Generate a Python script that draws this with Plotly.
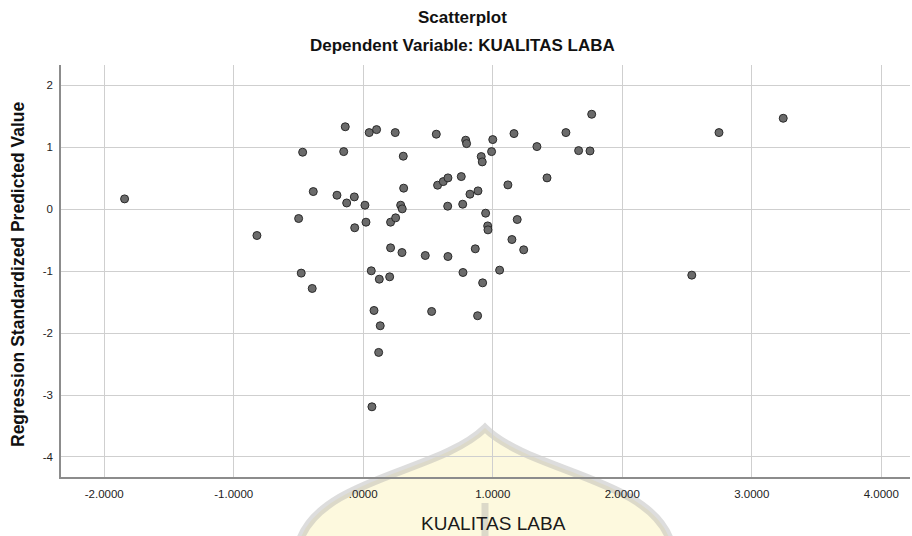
import plotly.graph_objects as go

# ---- data ----
kualitas_laba = [
    -1.843, -0.821, -0.499, -0.479, -0.468, -0.394, -0.386, -0.203, -0.151, -0.139,
    -0.128, -0.069, -0.066, 0.013, 0.021, 0.046, 0.062, 0.067, 0.083, 0.103,
    0.119, 0.124, 0.131, 0.204, 0.211, 0.211, 0.247, 0.250, 0.289, 0.299,
    0.301, 0.309, 0.312, 0.479, 0.528, 0.564, 0.574, 0.618, 0.652, 0.654,
    0.654, 0.757, 0.768, 0.770, 0.791, 0.798, 0.824, 0.865, 0.883, 0.886,
    0.911, 0.919, 0.922, 0.945, 0.961, 0.963, 0.991, 1.000, 1.053, 1.117,
    1.148, 1.164, 1.189, 1.239, 1.341, 1.419, 1.565, 1.663, 1.751, 1.764,
    2.537, 2.747, 3.243,
]
predicted_value = [
    0.166, -0.425, -0.151, -1.032, 0.919, -1.280, 0.284, 0.225, 0.929, 1.330,
    0.100, 0.198, -0.300, 0.064, -0.210, 1.236, -0.995, -3.190, -1.635, 1.284,
    -2.312, -1.130, -1.882, -1.092, -0.210, -0.624, 1.236, -0.140, 0.064, -0.700,
    0.005, 0.855, 0.339, -0.748, -1.651, 1.210, 0.387, 0.445, 0.048, 0.505,
    -0.764, 0.526, 0.080, -1.022, 1.113, 1.058, 0.242, -0.640, -1.720, 0.295,
    0.849, 0.763, -1.189, -0.065, -0.270, -0.334, 0.929, 1.123, -0.984, 0.392,
    -0.490, 1.220, -0.167, -0.656, 1.010, 0.505, 1.236, 0.945, 0.940, 1.532,
    -1.065, 1.236, 1.467,
]

x_tick_values = [-2, -1, 0, 1, 2, 3, 4]
x_tick_labels = ["-2.0000", "-1.0000", ".0000", "1.0000", "2.0000", "3.0000", "4.0000"]
y_tick_values = [-4, -3, -2, -1, 0, 1, 2]
y_tick_labels = ["-4", "-3", "-2", "-1", "0", "1", "2"]

title_1 = "Scatterplot"
title_2 = "Dependent Variable: KUALITAS LABA"
x_title = "KUALITAS LABA"
y_title = "Regression Standardized Predicted Value"

# ---- layout geometry ----
W, H = 912, 536
L, R, T, B = 61, 2, 65, 59
pw, ph = W - L - R, H - T - B


def px(xp):
    return (xp - L) / pw


def py(yp):
    return (H - B - yp) / ph


FONT = "Liberation Sans, Arial, sans-serif"

fig = go.Figure()
fig.add_trace(go.Scatter(
    x=kualitas_laba, y=predicted_value, mode="markers",
    marker=dict(size=8, color="#6b6b6b", line=dict(color="#2a2a2a", width=1)),
    hoverinfo="x+y", showlegend=False,
))

# faint watermark (decorative) behind the chart
dome = (f"M {px(300)},{py(540)} C {px(322)},{py(478)} {px(440)},{py(472)} {px(485)},{py(428)} "
        f"C {px(530)},{py(472)} {px(648)},{py(478)} {px(670)},{py(540)} Z")
shapes = [
    dict(type="path", path=dome, xref="paper", yref="paper",
         fillcolor="rgba(252,244,190,0.5)", line=dict(color="rgba(170,170,170,0.4)", width=8),
         layer="below"),
    dict(type="line", xref="paper", yref="paper", x0=px(485), x1=px(485), y0=py(503), y1=py(540),
         line=dict(color="rgba(170,170,170,0.4)", width=7), layer="below"),
]

annotations = [
    dict(text=f"<b>{title_1}</b>", x=px(462), y=py(18), xref="paper", yref="paper",
         showarrow=False, font=dict(family=FONT, size=17, color="#111"),
         xanchor="center", yanchor="middle"),
    dict(text=f"<b>{title_2}</b>", x=px(462), y=py(46), xref="paper", yref="paper",
         showarrow=False, font=dict(family=FONT, size=17, color="#111"),
         xanchor="center", yanchor="middle"),
    dict(text=x_title, x=px(494), y=py(523), xref="paper", yref="paper",
         showarrow=False, font=dict(family=FONT, size=19, color="#1a1a1a"),
         xanchor="center", yanchor="middle"),
    dict(text=f"<b>{y_title}</b>", x=px(18), y=py(274), xref="paper", yref="paper",
         showarrow=False, textangle=-90, font=dict(family=FONT, size=17.5, color="#111"),
         xanchor="center", yanchor="middle"),
]

fig.update_layout(
    width=W, height=H,
    margin=dict(l=L, r=R, t=T, b=B, pad=0),
    paper_bgcolor="white", plot_bgcolor="white",
    shapes=shapes, annotations=annotations,
    font=dict(family=FONT, color="#222"),
)
fig.update_xaxes(
    range=[-2.334, 4.222], tickvals=x_tick_values, ticktext=x_tick_labels,
    showgrid=True, gridcolor="#cfcfcf", gridwidth=1, zeroline=False,
    showline=True, linecolor="#8c8c8c", linewidth=1.5, mirror=False,
    ticks="outside", ticklen=5, tickcolor="rgba(0,0,0,0)",
    tickfont=dict(family=FONT, size=11.5, color="#222"),
)
fig.update_yaxes(
    range=[-4.323, 2.327], tickvals=y_tick_values, ticktext=y_tick_labels,
    showgrid=True, gridcolor="#cfcfcf", gridwidth=1, zeroline=False,
    showline=True, linecolor="#8c8c8c", linewidth=1.5, mirror=False,
    ticks="outside", ticklen=4, tickcolor="rgba(0,0,0,0)",
    tickfont=dict(family=FONT, size=11.5, color="#222"),
)

fig.write_html(
    "out.html",
    config={"displayModeBar": False},
    post_script="document.body.style.margin='0px';document.body.style.overflow='hidden';",
)
